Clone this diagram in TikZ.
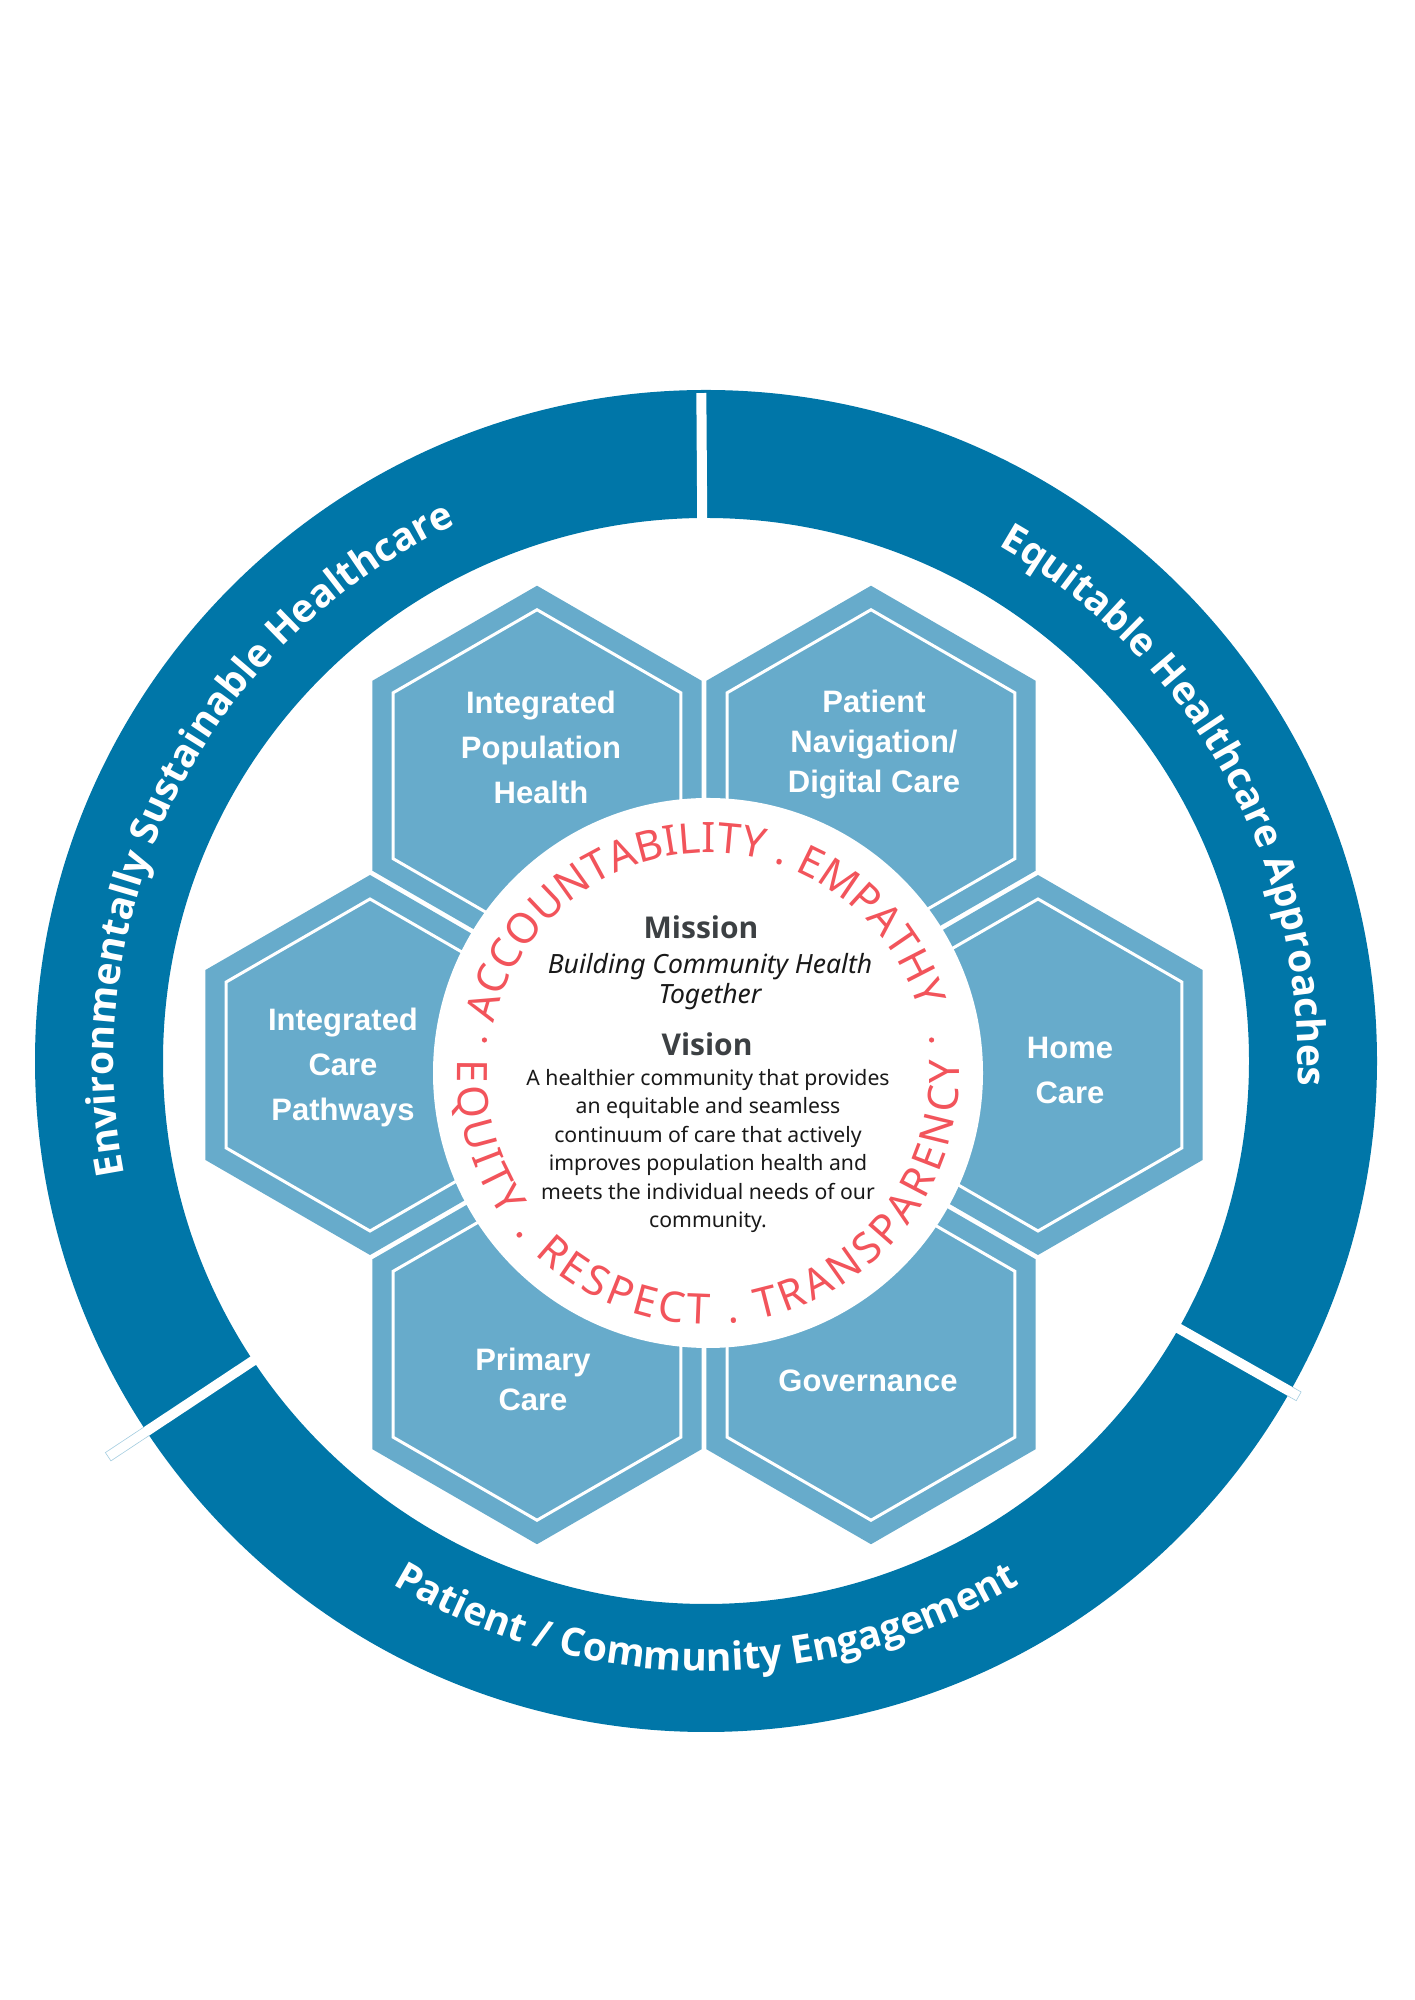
\documentclass[tikz,border=0pt]{standalone}
\usepackage{fontspec}
\setmainfont{Noto Sans}
\newfontfamily\ringfont{Open Sans}
\newfontfamily\hexfont{Liberation Sans}
\usetikzlibrary{decorations.text}
\definecolor{ringblue}{HTML}{0076A8}
\definecolor{hexblue}{HTML}{67ABCB}
\definecolor{valuered}{HTML}{F2545B}
\definecolor{headgrey}{HTML}{3C4043}
\tikzset{
	hexrim/.style={draw=white,line width=3pt},
	hexlabel/.style={text=white,align=center,font=\hexfont\bfseries\fontsize{31}{#1}\selectfont},
	headtext/.style={text=headgrey,font=\ringfont\bfseries\fontsize{30}{30}\selectfont},
	missiontext/.style={text=black!90,align=center,font=\itshape\fontsize{26.5}{30}\selectfont},
	visiontext/.style={text=black!90,align=center,font=\fontsize{21.2}{28.4}\selectfont},
	barrim/.style={draw=hexblue!60,line width=0.6pt},
	ringtext/.style={decorate,decoration={text along path,text align=center,text color=white,text={|\ringfont\bfseries\fontsize{39}{39}\selectfont|#1}}},
	valuetext/.style={decorate,decoration={text along path,text align=fit to path,text color=valuered,text={|\fontsize{42}{42}\selectfont|#1}}}
}
\begin{document}
\begin{tikzpicture}[x=1pt,y=1pt]
	\useasboundingbox (0,0) rectangle (1414,2000);
	\coordinate (ringc) at (706,939);
	\coordinate (hexc) at (704,935);
	\coordinate (discc) at (708,927);
	% outer ring and its three gaps
	\fill[ringblue,even odd rule] (ringc) circle[radius=671pt] (ringc) circle[radius=543pt];
	\foreach \a/\len in {90.4/668,213.5/717,330.5/681}{
		\begin{scope}[shift={(ringc)},rotate=\a]
			\fill[white] (538,-5) rectangle (\len,5);
		\end{scope}
	}
	\foreach \a/\len in {213.5/717,330.5/681}{
		\begin{scope}[shift={(ringc)},rotate=\a]
			\draw[barrim] (671,-5) -- (\len,-5) -- (\len,5) -- (671,5);
		\end{scope}
	}
	\path[ringtext={Environmentally Sustainable Healthcare}] (ringc) ++(213:592pt) arc[start angle=213,end angle=93,radius=592pt];
	\path[ringtext={Equitable Healthcare Approaches}] (ringc) ++(89:592pt) arc[start angle=89,end angle=-31,radius=592pt];
	\path[ringtext={Patient / Community Engagement}] (ringc) ++(210:610pt) arc[start angle=210,end angle=330,radius=610pt];
	% hexagons
	\foreach \a/\nm/\dx/\dy/\ls/\txt in {120/iph/4/28/45/{Integrated\\Population\\Health},60/pnav/3/31/40/{Patient\\Navigation/\\Digital Care},0/home/32/-5/45/{Home\\Care},300/gov/-3/-27/45/{Governance},240/prim/-4/-25/40/{Primary\\Care},180/icp/-27/-2/45/{Integrated\\Care\\Pathways}}{
		\begin{scope}[shift={(hexc)},shift={(\a:334pt)}]
			\fill[hexblue] (30:190pt) -- (90:190pt) -- (150:190pt) -- (210:190pt) -- (270:190pt) -- (330:190pt) -- cycle;
			\draw[hexrim] (30:166pt) -- (90:166pt) -- (150:166pt) -- (210:166pt) -- (270:166pt) -- (330:166pt) -- cycle;
			\node[hexlabel=\ls] (\nm) at (\dx,\dy) {\txt};
		\end{scope}
	}
	% centre disc
	\fill[white] (discc) circle[radius=275pt];
	\path[valuetext={ACCOUNTABILITY . EMPATHY}] (discc) ++(167:220pt) arc[start angle=167,end angle=17,radius=220pt];
	\path[valuetext={EQUITY . RESPECT . TRANSPARENCY}] (discc) ++(177:251pt) arc[start angle=177,end angle=363,radius=251pt];
	\fill[valuered] (discc) ++(171.6:226pt) circle[radius=2.6pt];
	\fill[valuered] (discc) ++(8.4:226pt) circle[radius=2.6pt];
	\node[headtext] (mission) at (701,1073) {Mission};
	\node[missiontext] (mtext) at (710,1018) {Building Community Health\\Together};
	\node[headtext] (vision) at (707,956) {Vision};
	\node[visiontext] (vtext) at (708,849) {A healthier community that provides\\an equitable and seamless\\continuum of care that actively\\improves population health and\\meets the individual needs of our\\community.};
\end{tikzpicture}
\end{document}
